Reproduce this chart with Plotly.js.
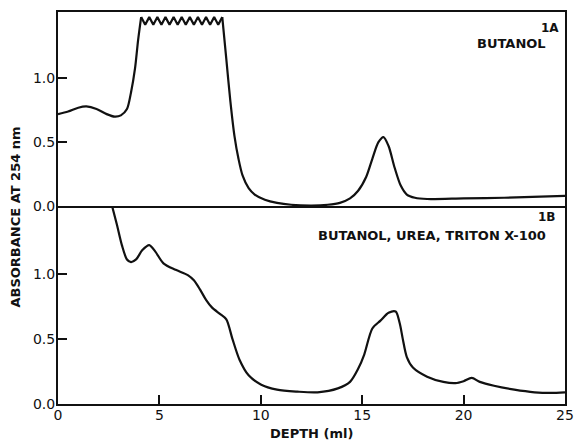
<!DOCTYPE html>
<html><head><meta charset="utf-8">
<script src="https://cdn.plot.ly/plotly-3.0.1.min.js"></script>
<style>html,body{margin:0;padding:0;background:#fff}#chart{width:576px;height:442px}</style>
</head><body><div id="chart"></div>
<script>
// Panel 1A (butanol)
const riseX = [0, 0.5, 1.0, 1.4, 1.9, 2.4, 2.8, 3.1, 3.4, 3.6, 3.8, 3.95, 4.1];
const riseY = [0.72, 0.74, 0.77, 0.78, 0.76, 0.72, 0.70, 0.71, 0.76, 0.89, 1.08, 1.30, 1.48];
const zigX = [4.1, 4.3, 4.5, 4.7, 4.9, 5.1, 5.3, 5.5, 5.7, 5.9, 6.1, 6.3, 6.5, 6.7, 6.9, 7.1, 7.3, 7.5, 7.7, 7.9, 8.1];
const zigY = [1.48, 1.42, 1.48, 1.42, 1.48, 1.42, 1.48, 1.42, 1.48, 1.42, 1.48, 1.42, 1.48, 1.42, 1.48, 1.42, 1.48, 1.42, 1.48, 1.42, 1.48];
const fallX = [8.1, 8.3, 8.5, 8.7, 8.9, 9.1, 9.4, 9.7, 10.2, 10.8, 11.5, 12.5, 13.3, 13.9, 14.4, 14.8, 15.2, 15.5, 15.8, 16.05, 16.3, 16.6, 16.9, 17.2, 17.6, 18.2, 20, 22, 25];
const fallY = [1.48, 1.15, 0.82, 0.55, 0.37, 0.24, 0.14, 0.09, 0.05, 0.025, 0.01, 0.004, 0.01, 0.025, 0.06, 0.12, 0.23, 0.37, 0.50, 0.54, 0.47, 0.30, 0.16, 0.09, 0.065, 0.055, 0.06, 0.065, 0.08];
// Panel 1B (butanol, urea, Triton X-100)
const bX = [2.6, 2.9, 3.15, 3.4, 3.6, 3.85, 4.15, 4.5, 4.8, 5.2, 5.8, 6.4, 6.7, 7.0, 7.3, 7.6, 8.0, 8.3, 8.6, 8.95, 9.4, 10.0, 10.8, 11.8, 12.8, 13.8, 14.4, 14.8, 15.1, 15.5, 15.9, 16.3, 16.65, 16.85, 17.0, 17.2, 17.5, 18.2, 19.0, 19.6, 20.0, 20.4, 20.8, 21.5, 22.5, 23.5, 24.3, 25];
const bY = [1.56, 1.38, 1.22, 1.11, 1.09, 1.11, 1.18, 1.22, 1.17, 1.08, 1.03, 0.99, 0.95, 0.88, 0.80, 0.74, 0.69, 0.65, 0.50, 0.34, 0.22, 0.15, 0.11, 0.095, 0.09, 0.12, 0.17, 0.27, 0.38, 0.58, 0.64, 0.70, 0.71, 0.62, 0.50, 0.36, 0.28, 0.21, 0.17, 0.16, 0.175, 0.20, 0.17, 0.14, 0.11, 0.09, 0.085, 0.09];
const xTicks = [0, 5, 10, 15, 20, 25];
const yTicks = [0.0, 0.5, 1.0];

const FONT = 'DejaVu Sans, sans-serif';
const ln = {color: '#111', width: 2.2};
const traces = [
  {x: riseX, y: riseY, xaxis: 'x2', yaxis: 'y2', mode: 'lines', line: Object.assign({shape: 'spline', smoothing: 0.8}, ln)},
  {x: zigX, y: zigY, xaxis: 'x2', yaxis: 'y2', mode: 'lines', line: Object.assign({shape: 'linear'}, ln)},
  {x: fallX, y: fallY, xaxis: 'x2', yaxis: 'y2', mode: 'lines', line: Object.assign({shape: 'spline', smoothing: 0.8}, ln)},
  {x: bX, y: bY, xaxis: 'x', yaxis: 'y', mode: 'lines', line: Object.assign({shape: 'spline', smoothing: 0.8}, ln)}
];
const yax = (dom, anchor) => ({domain: dom, anchor: anchor, range: [0, 1.52], tickvals: yTicks, tickformat: '.1f',
  ticks: 'inside', ticklen: 9, tickwidth: 2, tickcolor: '#111', showline: true, mirror: true, linecolor: '#111', linewidth: 2,
  showgrid: false, zeroline: false, ticklabelstandoff: -2, tickfont: {family: FONT, size: 14, color: '#111'}});
const ann = (x, y, text, size) => ({xref: 'paper', yref: 'paper', x: x, y: y, xanchor: 'right', yanchor: 'middle', text: text,
  showarrow: false, font: {family: FONT, size: size, color: '#111', weight: 'bold'}});
const layout = {
  width: 576, height: 442, margin: {l: 58, r: 11, t: 12, b: 38},
  paper_bgcolor: '#fff', plot_bgcolor: '#fff', showlegend: false,
  xaxis: {domain: [0, 1], anchor: 'y', range: [0, 25], tickvals: xTicks, ticks: 'inside', ticklen: 9, tickwidth: 2, tickcolor: '#111',
    showline: true, mirror: false, linecolor: '#111', linewidth: 2, showgrid: false, zeroline: false,
    ticklabeloverflow: 'allow', ticklabelstandoff: -3,
    tickfont: {family: FONT, size: 14, color: '#111'}},
  xaxis2: {domain: [0, 1], anchor: 'y2', range: [0, 25], showticklabels: false, ticks: '', showline: true, mirror: true,
    linecolor: '#111', linewidth: 2, showgrid: false, zeroline: false, matches: 'x'},
  yaxis: yax([0, 0.505], 'x'),
  yaxis2: yax([0.505, 1], 'x2'),
  annotations: [
    ann(0.992, 0.96, '1A', 12),
    ann(0.966, 0.92, 'BUTANOL', 13),
    ann(0.986, 0.476, '1B', 12),
    ann(0.966, 0.43, 'BUTANOL, UREA, TRITON X-100', 13),
    {xref: 'paper', yref: 'paper', x: 0.5, y: -0.076, xanchor: 'center', yanchor: 'middle', text: 'DEPTH (ml)', showarrow: false,
      font: {family: FONT, size: 13, color: '#111', weight: 'bold'}},
    {xref: 'paper', yref: 'paper', x: -0.083, y: 0.478, xanchor: 'center', yanchor: 'middle', textangle: -90, text: 'ABSORBANCE AT 254 nm',
      showarrow: false, font: {family: FONT, size: 13, color: '#111', weight: 'bold'}}
  ]
};
Plotly.newPlot('chart', traces, layout, {staticPlot: true, displayModeBar: false});
</script></body></html>
